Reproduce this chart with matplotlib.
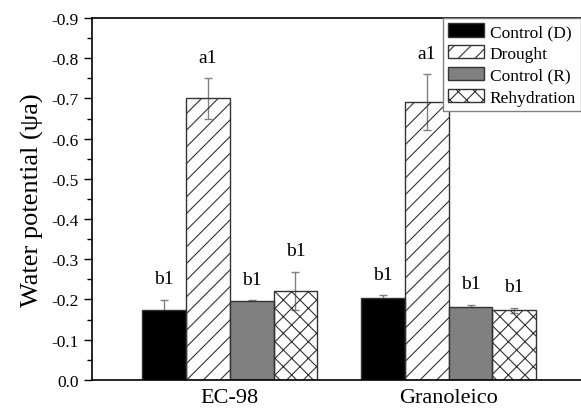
import numpy as np
import matplotlib
matplotlib.use('Agg')
import matplotlib.pyplot as plt
from matplotlib.ticker import MultipleLocator

plt.rcParams['font.family'] = ['Liberation Serif', 'DejaVu Serif']
plt.rcParams['axes.unicode_minus'] = False
plt.rcParams['hatch.linewidth'] = 0.8

# 数据
groups = ['EC-98', 'Granoleico']
treatments = ['Control (D)', 'Drought', 'Control (R)', 'Rehydration']
means = {
    'Control (D)': [-0.174, -0.203],
    'Drought': [-0.700, -0.691],
    'Control (R)': [-0.195, -0.181],
    'Rehydration': [-0.222, -0.173],
}
errs = {
    'Control (D)': [0.025, 0.007],
    'Drought': [0.050, 0.070],
    'Control (R)': [0.003, 0.006],
    'Rehydration': [0.047, 0.007],
}
letters = {
    'Control (D)': ['b1', 'b1'],
    'Drought': ['a1', 'a1'],
    'Control (R)': ['b1', 'b1'],
    'Rehydration': ['b1', 'b1'],
}

# 样式
face = {'Control (D)': 'black', 'Drought': 'none', 'Control (R)': '#808080', 'Rehydration': 'none'}
hatch = {'Control (D)': None, 'Drought': '//', 'Control (R)': None, 'Rehydration': 'xx'}

fig = plt.figure(figsize=(5.81, 4.14), dpi=100)
ax = fig.add_axes([0.158, 0.08, 0.842, 0.874])

x = np.arange(len(groups))
w = 0.2
for i, t in enumerate(treatments):
    pos = x + (i - 1.5) * w
    ax.errorbar(pos, means[t], yerr=errs[t], fmt='none', ecolor='#808080',
                elinewidth=1, capsize=3, capthick=1, zorder=1)
    ax.bar(pos, means[t], width=w, facecolor=face[t], edgecolor='#333333',
           linewidth=1, hatch=hatch[t], label=t, zorder=2)
    for p, m, e, s in zip(pos, means[t], errs[t], letters[t]):
        ax.text(p, m - e - 0.052, s, ha='center', va='center', fontsize=14)

ax.set_ylim(0, -0.9)
ax.set_xlim(-0.631, 1.605)
ax.yaxis.set_major_locator(MultipleLocator(0.1))
ax.yaxis.set_minor_locator(MultipleLocator(0.05))
ax.yaxis.set_major_formatter(matplotlib.ticker.FormatStrFormatter('%.1f'))
ax.tick_params(axis='y', which='major', direction='out', length=6, width=1, labelsize=12.5)
ax.tick_params(axis='y', which='minor', direction='out', length=3.5, width=1)
ax.set_xticks(x)
ax.set_xticklabels(groups, fontsize=16)
ax.tick_params(axis='x', length=0, pad=6)
for s in ax.spines.values():
    s.set_linewidth(1.2)
ax.spines['right'].set_visible(False)

ax.set_ylabel('Water potential (ψa)', fontsize=19, labelpad=5)

leg = ax.legend(loc='upper right', borderaxespad=0, fontsize=12.5, fancybox=False,
                edgecolor='#808080', framealpha=1, handlelength=2.1, handleheight=0.8,
                labelspacing=0.3, handletextpad=0.3, borderpad=0.3)
leg.get_frame().set_linewidth(1)

plt.savefig('out.png', dpi=100)
